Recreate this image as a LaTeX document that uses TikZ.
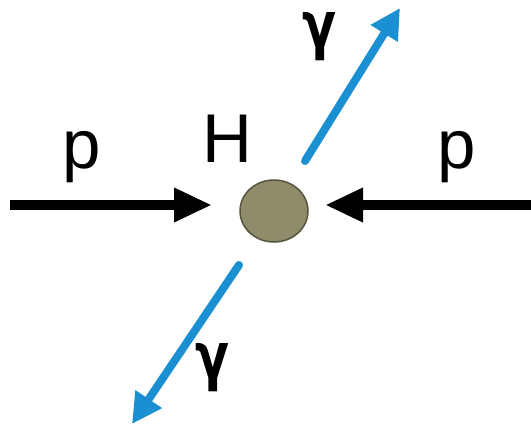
\documentclass[tikz,border=0pt]{standalone}
\usepackage{fontspec}
\setmainfont{Liberation Sans}
\newfontfamily\gfont{DejaVu Sans}
\usetikzlibrary{arrows.meta,shapes.geometric}
\definecolor{gblue}{HTML}{1A8FD2}
\definecolor{hfill}{HTML}{8F8C6C}
\definecolor{hdraw}{HTML}{55543E}
\begin{document}
\begin{tikzpicture}[x=1pt,y=-1pt,
  parr/.style={line width=10pt,-{Triangle[length=38pt,width=32pt]}},
  garr/.style={line width=8pt,gblue,-{Triangle[length=30pt,width=30pt]}},
  lbl/.style={font=\fontsize{69}{72}\selectfont,inner sep=0pt,anchor=base},
  glbl/.style={font=\gfont\bfseries\fontsize{64}{68}\selectfont,inner sep=0pt,anchor=base,xscale=0.78,text height=36pt,text depth=14pt}]
\useasboundingbox (0,0) rectangle (531,431);
\node[ellipse,minimum width=68pt,minimum height=62pt,fill=hfill,draw=hdraw,line width=1.5pt,inner sep=0pt] (h) at (274,211) {};
\coordinate (l0) at (10,205);
\coordinate (l1) at (212,205);
\coordinate (r0) at (531,205);
\coordinate (r1) at (325,205);
\coordinate (u0) at (305,161);
\coordinate (u1) at (400,8);
\coordinate (d0) at (239,265);
\coordinate (d1) at (132,424);
\draw[parr] (l0) -- (l1);
\draw[parr] (r0) -- (r1);
\draw[garr,line cap=round] (u0) -- (u1);
\draw[garr,line cap=round] (d0) -- (d1);
\node[lbl] (pl) at (82,168) {p};
\node[lbl] (pr) at (457,168) {p};
\node[lbl] (hl) at (227,162) {H};
\node[glbl] (gu) at (319,47) {γ};
\node[glbl] (gd) at (213,378) {γ};
\end{tikzpicture}
\end{document}
